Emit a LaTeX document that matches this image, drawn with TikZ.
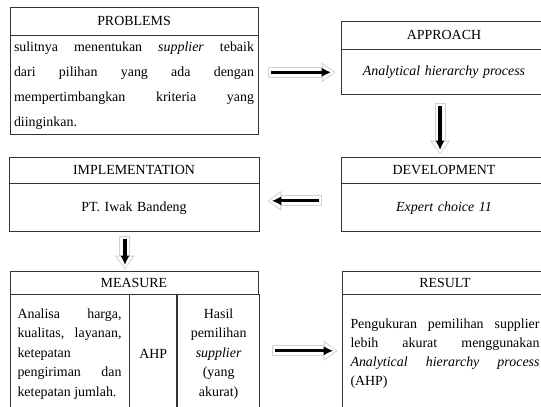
\documentclass[tikz,border=0pt]{standalone}
\usepackage{fontspec}
\setmainfont{Liberation Serif}
\usetikzlibrary{arrows.meta, positioning}
\newdimen\pxu \pxu=0.862pt

\begin{document}
\begin{tikzpicture}[x=\pxu, y=-\pxu, node distance=0pt,
    every node/.style={font=\fontsize{12}{14}\selectfont},
    head/.style={draw=black!80, line width=0.7pt, inner sep=0pt, align=center},
    body/.style={draw=black!80, line width=0.7pt, inner ysep=0pt, inner xsep=4\pxu},
    flow/.style={line width=2.8pt, -{Latex[length=7.8pt,width=7.8pt,line width=0pt]},
        shorten <=2.6pt, shorten >=4.3pt,
        preaction={draw=gray!35, line width=9.5pt, shorten <=0pt, shorten >=0pt,
            -{Triangle[length=12pt,width=17.2pt,line width=0pt]}},
        preaction={draw=white, line width=7.8pt, shorten <=0.9pt, shorten >=1.3pt,
            -{Triangle[length=9.9pt,width=13.8pt,line width=0pt]}}}]
    \useasboundingbox (0,0) rectangle (541,407);

    \node(problems-head)[head, text width=248\pxu, minimum height=28\pxu] at (134,21) {PROBLEMS};
    \node(problems-body)[body, below=of problems-head, text width=240\pxu, minimum height=99\pxu,
        align=justify, font=\fontsize{12}{21.5}\selectfont]
        {sulitnya menentukan \textit{supplier} tebaik\linebreak
         dari pilihan yang ada dengan\linebreak
         mempertimbangkan kriteria yang\linebreak
         diinginkan.};

    \node(approach-head)[head, text width=206\pxu, minimum height=28\pxu] at (444,35) {APPROACH};
    \node(approach-body)[body, below=of approach-head, text width=198\pxu, minimum height=45\pxu,
        align=center] {\textit{Analytical hierarchy process}};

    \node(development-head)[head, text width=206\pxu, minimum height=26\pxu] at (444,170) {DEVELOPMENT};
    \node(development-body)[body, below=of development-head, text width=198\pxu, minimum height=48\pxu,
        align=center] {\textit{Expert choice 11}};

    \node(implementation-head)[head, text width=250\pxu, minimum height=26\pxu] at (134,170) {IMPLEMENTATION};
    \node(implementation-body)[body, below=of implementation-head, text width=242\pxu, minimum height=48\pxu,
        align=center] {PT. Iwak Bandeng};

    \node(measure-head)[head, text width=248\pxu, minimum height=23\pxu] at (134,282.5) {MEASURE};
    \node(measure-crit)[body, below right=of measure-head.south west, text width=104\pxu, inner xsep=7.5\pxu,
        minimum height=118\pxu, align=justify, font=\fontsize{12}{16.8}\selectfont]
        {Analisa harga,\linebreak
         kualitas, layanan,\linebreak
         ketepatan\newline
         pengiriman dan\linebreak
         ketepatan jumlah.};
    \node(measure-ahp)[body, right=of measure-crit, text width=47\pxu, inner xsep=0pt,
        minimum height=118\pxu, align=center] {AHP};
    \node(measure-out)[body, right=of measure-ahp, text width=82\pxu, inner xsep=0pt,
        minimum height=118\pxu, align=center, font=\fontsize{12}{16.8}\selectfont]
        {Hasil\\ pemilihan\\ \textit{supplier}\\ (yang\\ akurat)};

    \node(result-head)[head, text width=206\pxu, minimum height=23\pxu] at (445,282.5) {RESULT};
    \node(result-body)[body, below=of result-head, text width=189\pxu, inner xsep=8.5\pxu,
        minimum height=118\pxu, align=justify, font=\fontsize{12}{16.2}\selectfont]
        {Pengukuran pemilihan supplier\linebreak
         lebih akurat menggunakan\linebreak
         \textit{Analytical hierarchy process}\linebreak
         (AHP)};

    \draw[flow] ([xshift=8.6pt]problems-body.east |- approach-body) -- ([xshift=-4.3pt]approach-body.west);
    \draw[flow] ([xshift=-3.4pt, yshift=-6.9pt]approach-body.south) -- ([xshift=-3.4pt, yshift=1.7pt]development-head.north);
    \draw[flow] ([xshift=-16.4pt, yshift=6pt]development-body.west) -- ([xshift=6.9pt, yshift=6pt]implementation-body.east);
    \draw[flow] ([xshift=-7.8pt, yshift=-3.4pt]implementation-body.south) -- ([xshift=-7.8pt, yshift=0.9pt]measure-head.north);
    \draw[flow] ([xshift=10.3pt, yshift=2.6pt]measure-out.east) -- ([xshift=-3.4pt, yshift=2.6pt]result-body.west);
\end{tikzpicture}
\end{document}
